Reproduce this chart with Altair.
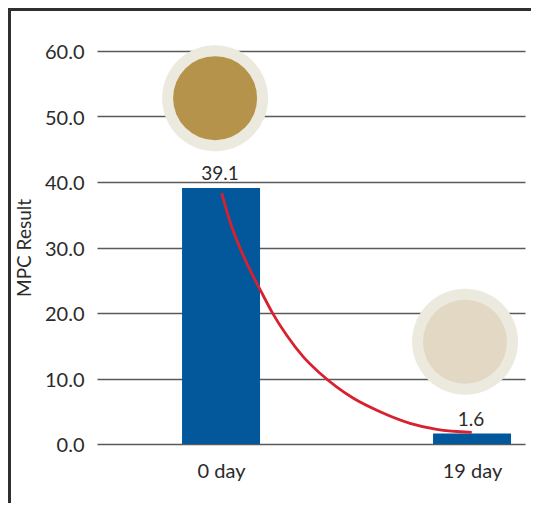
import altair as alt
import pandas as pd

FONT = "Lato"
INK = "#2b2b2b"

bar_days = [0, 19]
bar_values = [39.1, 1.6]
curve_days = [0.05, 0.68, 1.44, 2.32, 2.95, 3.91, 4.97, 6.23, 7.49, 10.02, 12.04, 14.31, 16.33, 18.98]
curve_values = [38.3, 33.94, 29.9, 26.06, 23.6, 19.95, 16.6, 13.3, 10.8, 6.98, 4.93, 3.16, 2.24, 1.79]
spot_days = [-0.45, 18.47]
spot_values = [52.8, 15.6]
spot_colors = ["#B5934B", "#E2D8C3"]

x_scale = alt.Scale(domain=[-9.39, 23.01], nice=False, zero=False, padding=0)
y_scale = alt.Scale(domain=[0, 60], nice=False)

bars_df = pd.DataFrame({"day": bar_days, "value": bar_values})
curve_df = pd.DataFrame({"day": curve_days, "value": curve_values})
spot_df = pd.DataFrame({"day": spot_days, "value": spot_values, "color": spot_colors})

X = alt.X(
    "day:Q",
    scale=x_scale,
    title=None,
    axis=alt.Axis(
        values=bar_days, labelExpr="datum.value + ' day'", grid=False, domain=False,
        ticks=False, labelFontSize=20, labelPadding=17, labelColor=INK, labelFont=FONT,
    ),
)
Y = alt.Y(
    "value:Q",
    scale=y_scale,
    title="MPC Result",
    axis=alt.Axis(
        values=[0, 10, 20, 30, 40, 50, 60], format=".1f", grid=True, gridColor="#5a5a5a",
        gridWidth=1.3, domain=False, ticks=False, labelFontSize=20, labelPadding=13,
        labelOffset=1.5, labelColor=INK, labelFont=FONT, titleFont=FONT, titleFontSize=19,
        titleFontWeight="normal", titleColor=INK, titleX=-63,
    ),
)

bars = alt.Chart(bars_df).mark_bar(size=78, color="#03589B").encode(x=X, y=Y)
labels = alt.Chart(bars_df).mark_text(
    dy=-14, dx=-1, fontSize=19, font=FONT, color=INK
).encode(x=X, y=Y, text=alt.Text("value:Q", format=".1f"))
curve = alt.Chart(curve_df).mark_line(color="#D9202E", strokeWidth=2.8, interpolate="monotone").encode(x=X, y=Y)
halo = alt.Chart(spot_df).mark_circle(size=11236, color="#ECEADF", opacity=1).encode(x=X, y=Y)
spots = alt.Chart(spot_df).mark_circle(size=7056, opacity=1).encode(
    x=X, y=Y, color=alt.Color("color:N", scale=None)
)

anchor = pd.DataFrame({"a": [0]})
frame_left = alt.Chart(anchor).mark_rule(color="#2f2f2f", strokeWidth=3).encode(
    x=alt.value(-87.5), y=alt.value(-43), y2=alt.value(452)
)
frame_top = alt.Chart(anchor).mark_rule(color="#2f2f2f", strokeWidth=3).encode(
    y=alt.value(-41.5), x=alt.value(-89), x2=alt.value(434)
)

chart = alt.layer(bars, labels, curve, halo, spots, frame_left, frame_top).properties(
    width=428,
    height=393,
    padding={"left": 89, "right": 6, "top": 43, "bottom": 59},
    autosize=alt.AutoSizeParams(type="none"),
    background="white",
).configure_view(stroke=None)

chart.save("out.html", embed_options={"renderer": "svg", "actions": False})
